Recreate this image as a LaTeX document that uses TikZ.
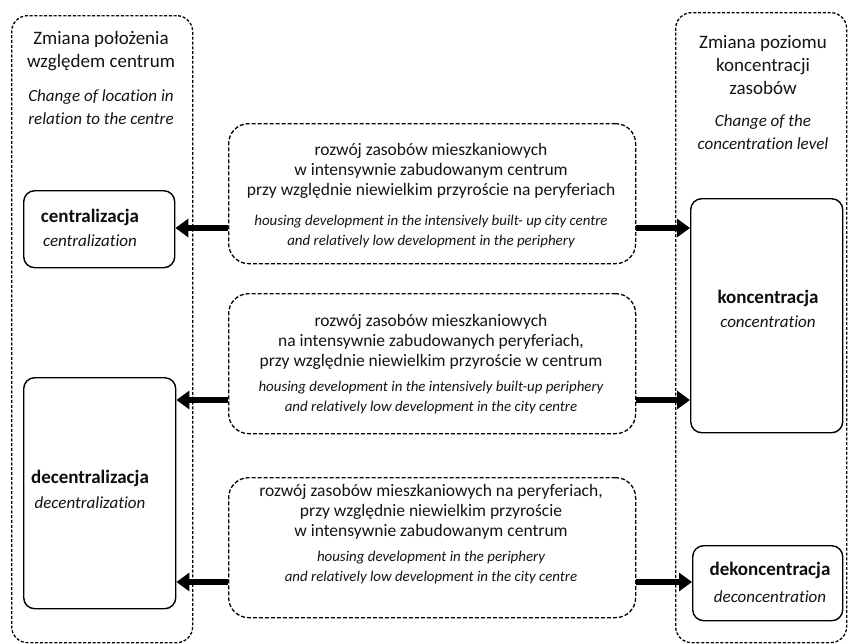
\documentclass[tikz,border=0pt]{standalone}
\usepackage{fontspec}
\setmainfont{Carlito}[Ligatures=NoCommon]
\usetikzlibrary{arrows.meta}
\begin{document}
\begin{tikzpicture}[x=1pt,y=-1pt,
  outerbox/.style={draw=black, line width=1.3pt, dash pattern=on 3pt off 1.8pt, rounded corners=16pt, inner sep=0pt, anchor=north west},
  midbox/.style={draw=black, line width=1.3pt, dash pattern=on 4pt off 2pt, rounded corners=20pt, inner sep=0pt, anchor=north west},
  catbox/.style={draw=black, line width=1.4pt, rounded corners=11pt, inner sep=0pt, anchor=north west},
  bigarrow/.style={draw=black, line width=6pt, -{Triangle[length=13pt,width=18pt]}},
  headpl/.style={align=center, inner sep=0pt, text=black!92, font=\fontsize{19}{23}\selectfont},
  headen/.style={align=center, inner sep=0pt, text=black!92, font=\fontsize{17}{23}\selectfont\itshape},
  midpl/.style={align=center, inner sep=0pt, text=black!92, font=\fontsize{17.5}{20}\selectfont},
  miden/.style={align=center, inner sep=0pt, text=black!92, font=\fontsize{14.9}{20}\selectfont\itshape},
  catpl/.style={inner sep=0pt, text=black!95, font=\fontsize{19}{21}\selectfont\bfseries},
  caten/.style={inner sep=0pt, text=black!92, font=\fontsize{17}{21}\selectfont\itshape}
]
\fill[white] (0,0) rectangle (848,643);
\useasboundingbox (0,0) rectangle (848,643);

% outer dashed frames
\node[outerbox, minimum width=181pt, minimum height=627pt] (left) at (11,15) {};
\node[outerbox, minimum width=171pt, minimum height=630pt] (right) at (675,12) {};

% headers
\node[headpl] (lh1) at (101,51.5) {Zmiana położenia\\względem centrum};
\node[headen] (lh2) at (101,107.5) {Change of location in\\relation to the centre};
\node[headpl] (rh1) at (763,65) {Zmiana poziomu\\koncentracji\\zasobów};
\node[headen] (rh2) at (763,132) {Change of the\\concentration level};

% middle dashed boxes
\node[midbox, minimum width=407pt, minimum height=140pt] (m1) at (228,123) {};
\node[midbox, minimum width=407pt, minimum height=140pt] (m2) at (228,293) {};
\node[midbox, minimum width=407pt, minimum height=140pt] (m3) at (228,477) {};

\node[midpl] (m1pl) at (431,171) {rozwój zasobów mieszkaniowych\\w intensywnie zabudowanym centrum\\przy względnie niewielkim przyroście na peryferiach};
\node[miden] (m1en) at (431,232) {housing development in the intensively built- up city centre\\and relatively low development in the periphery};
\node[midpl] (m2pl) at (431,342) {rozwój zasobów mieszkaniowych\\na intensywnie zabudowanych peryferiach,\\przy względnie niewielkim przyroście w centrum};
\node[miden] (m2en) at (431,398) {housing development in the intensively built-up periphery\\and relatively low development in the city centre};
\node[midpl] (m3pl) at (431,512) {rozwój zasobów mieszkaniowych na peryferiach,\\przy względnie niewielkim przyroście\\w intensywnie zabudowanym centrum};
\node[miden] (m3en) at (431,567.5) {housing development in the periphery\\and relatively low development in the city centre};

% category boxes
\node[catbox, minimum width=151pt, minimum height=77pt] (cen) at (23,190) {};
\node[catbox, minimum width=152pt, minimum height=231pt] (dec) at (23,377) {};
\node[catbox, minimum width=152pt, minimum height=234pt] (kon) at (690,198) {};
\node[catbox, minimum width=150pt, minimum height=75pt] (dek) at (692,545) {};

\node[catpl] (cen1) at (90,217) {centralizacja};
\node[caten] (cen2) at (90,241) {centralization};
\node[catpl] (dec1) at (90,478) {decentralizacja};
\node[caten] (dec2) at (90,503) {decentralization};
\node[catpl] (kon1) at (768,298) {koncentracja};
\node[caten] (kon2) at (768,322) {concentration};
\node[catpl] (dek1) at (770,570) {dekoncentracja};
\node[caten] (dek2) at (770,597) {deconcentration};

% arrows
\draw[bigarrow] (m1.west |- 0,228) -- (cen.east |- 0,228);
\draw[bigarrow] (m1.east |- 0,228) -- (kon.west |- 0,228);
\draw[bigarrow] (m2.west |- 0,400) -- (dec.east |- 0,400);
\draw[bigarrow] (m2.east |- 0,400) -- (kon.west |- 0,400);
\draw[bigarrow] (m3.west |- 0,582) -- (dec.east |- 0,582);
\draw[bigarrow] (m3.east |- 0,582) -- (dek.west |- 0,582);
\end{tikzpicture}
\end{document}
